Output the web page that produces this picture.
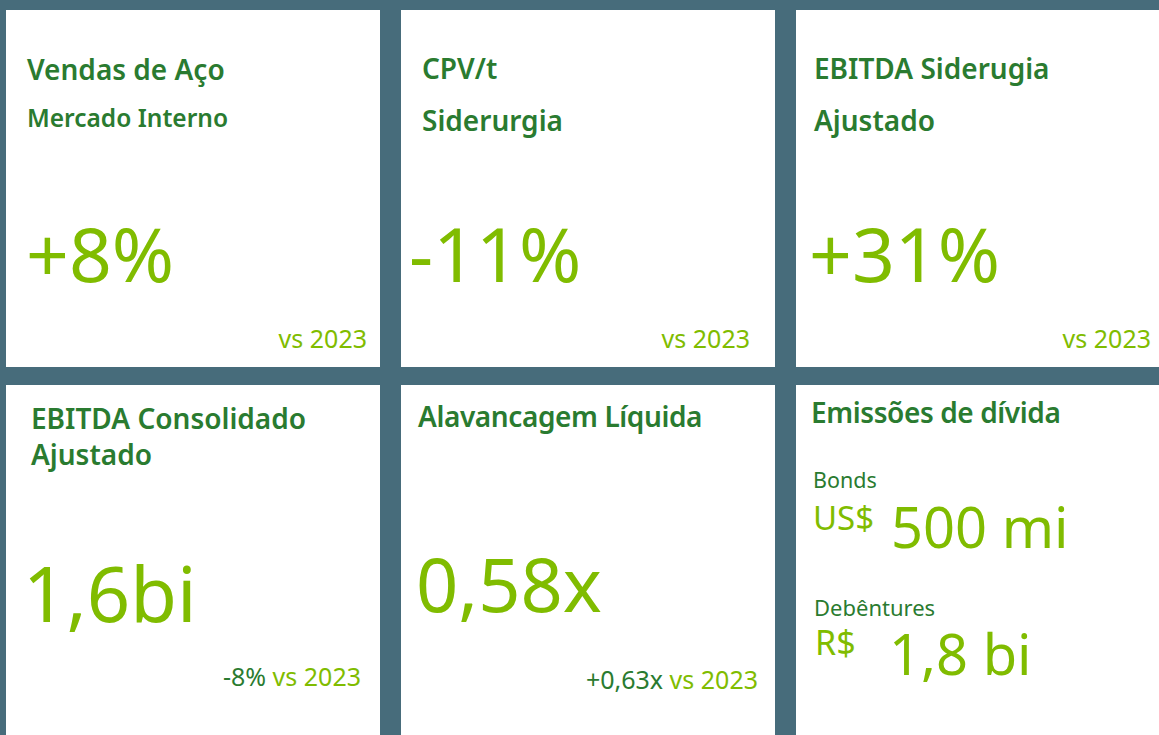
<!DOCTYPE html>
<html>
<head>
<meta charset="utf-8">
<script src="https://cdn.jsdelivr.net/npm/chart.js@4.4.0/dist/chart.umd.min.js"></script>
<style>
    html, body { margin: 0; padding: 0; }
    body {
        width: 1159px;
        height: 735px;
        background: #476c7b;
        position: relative;
        overflow: hidden;
        font-family: 'Noto Sans', 'Open Sans', sans-serif;
    }
    .tile { position: absolute; background: #ffffff; overflow: hidden; }
    .txt { position: absolute; line-height: 1; white-space: nowrap; }
    .title { color: #2a7b30; font-weight: 600; }
    .big { color: #80bc00; font-weight: 400; }
    .dark { color: #2a7b30; }
    .lime { color: #80bc00; }
</style>
</head>
<body>
<script>
// KPI texts
const tileTitles = [
    ['Vendas de Aço', 'Mercado Interno'],
    ['CPV/t', 'Siderurgia'],
    ['EBITDA Siderugia', 'Ajustado'],
    ['EBITDA Consolidado', 'Ajustado'],
    ['Alavancagem Líquida'],
    ['Emissões de dívida']
];
const tileValues = ['+8%', '-11%', '+31%', '1,6bi', '0,58x'];
const tileDeltas = ['', '', '', '-8%', '+0,63x'];
const compareLabel = 'vs 2023';
const debtLabels = ['Bonds', 'Debêntures'];
const debtCurrencies = ['US$', 'R$'];
const debtAmounts = ['500 mi', '1,8 bi'];

// tile boxes (page coords)
const tileBoxes = [
    [6, 10, 380, 367], [401, 10, 775, 367], [796, 10, 1159, 367],
    [6, 385, 380, 735], [401, 385, 775, 735], [796, 385, 1159, 735]
];

// Noto Sans: baseline sits 0.888em below the top of a line-height:1 box
const BASE = 0.888;

function place(tile, box, text, opts) {
    const el = document.createElement('div');
    el.className = 'txt ' + (opts.cls || '');
    el.style.fontSize = opts.size + 'px';
    el.style.top = (opts.base - BASE * opts.size - box[1]) + 'px';
    if (opts.right !== undefined) {
        el.style.right = (box[2] - opts.right) + 'px';
    } else {
        el.style.left = (opts.x - box[0]) + 'px';
    }
    if (opts.spacing) el.style.letterSpacing = opts.spacing + 'px';
    if (opts.html) el.innerHTML = text; else el.textContent = text;
    tile.appendChild(el);
    return el;
}

// title lines: [x, baseline line1, baseline line2, size1, size2, letter-spacing]
const titleLayout = [
    [27, 80, 128, 28, 24.5, 0],
    [422, 79, 131, 28, 28, 0],
    [814, 79, 131, 28, 28, 0],
    [31, 429, 465, 28, 28, 0],
    [418, 427, 0, 28, 0, -0.4],
    [811, 423, 0, 28, 0, -0.4]
];
// big value: [x, baseline, size]
const valueLayout = [
    [26, 283, 75], [409, 283, 75], [809, 283, 75],
    [23, 622, 76], [416, 613, 74]
];
// comparison line: [right, baseline, size]
const compareLayout = [
    [367, 348, 25], [750, 348, 25], [1151, 348, 25],
    [361, 686, 25], [758, 689, 25]
];

tileBoxes.forEach((box, i) => {
    const tile = document.createElement('div');
    tile.className = 'tile';
    tile.style.left = box[0] + 'px';
    tile.style.top = box[1] + 'px';
    tile.style.width = (box[2] - box[0]) + 'px';
    tile.style.height = (box[3] - box[1]) + 'px';
    document.body.appendChild(tile);

    const tl = titleLayout[i];
    tileTitles[i].forEach((line, k) => {
        place(tile, box, line, { cls: 'title', x: tl[0], base: tl[1 + k], size: tl[3 + k], spacing: tl[5] });
    });

    if (i < tileValues.length) {
        const vl = valueLayout[i];
        place(tile, box, tileValues[i], { cls: 'big', x: vl[0], base: vl[1], size: vl[2] });
        const cl = compareLayout[i];
        const delta = tileDeltas[i] ? '<span class="dark">' + tileDeltas[i] + '</span> ' : '';
        place(tile, box, delta + '<span class="lime">' + compareLabel + '</span>',
            { right: cl[0], base: cl[1], size: cl[2], html: true });
    } else {
        // debt issuance tile
        const labelBase = [488, 616];
        const labelSize = [21.5, 22];
        const curBase = [530, 655];
        const curSize = [33, 34];
        const amtBase = [548, 675];
        const labelX = [813, 814];
        const curX = [813, 815];
        const amtX = [891, 889];
        debtLabels.forEach((lab, k) => {
            place(tile, box, lab, { cls: 'dark', x: labelX[k], base: labelBase[k], size: labelSize[k] });
            place(tile, box, debtCurrencies[k], { cls: 'lime', x: curX[k], base: curBase[k], size: curSize[k] });
            place(tile, box, debtAmounts[k], { cls: 'big', x: amtX[k], base: amtBase[k], size: 56 });
        });
    }
});
</script>
</body>
</html>
